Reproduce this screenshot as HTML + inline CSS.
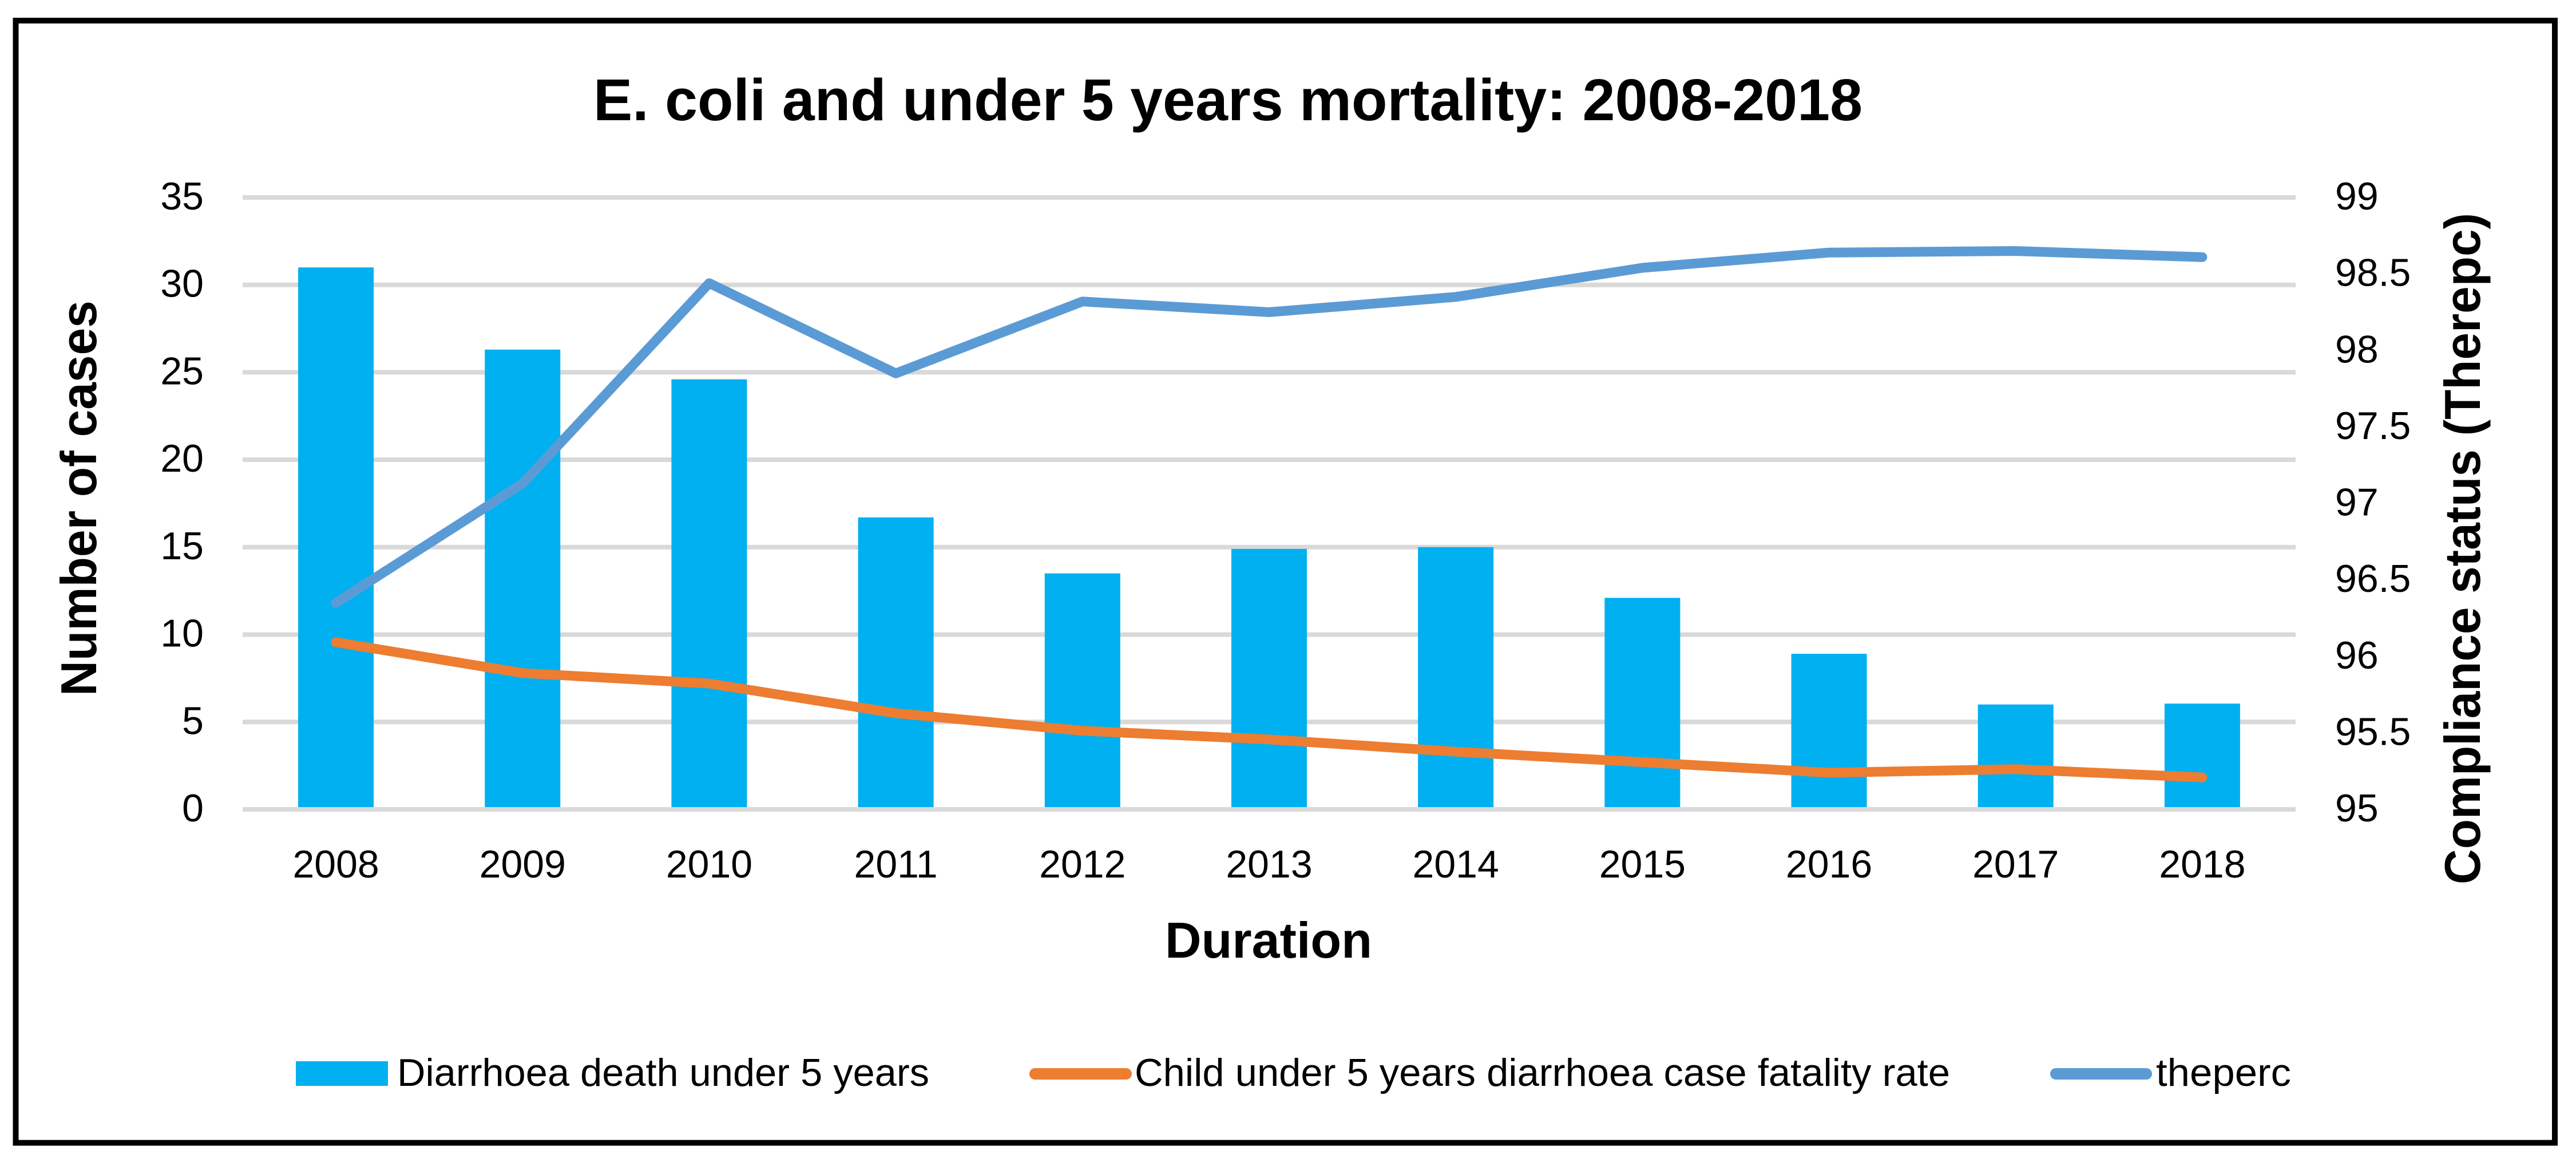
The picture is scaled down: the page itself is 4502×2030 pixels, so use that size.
<!DOCTYPE html>
<html>
<head>
<meta charset="utf-8">
<title>E. coli and under 5 years mortality</title>
<style>
html,body{margin:0;padding:0;background:#fff;width:4502px;height:2030px;overflow:hidden}
svg{display:block}
text{font-family:"Liberation Sans",sans-serif;fill:#000}
.tick{font-size:68px}
.bold{font-weight:bold}
.legend{font-size:68px}
</style>
</head>
<body>
<svg id="chart" xmlns="http://www.w3.org/2000/svg" width="4502" height="2030" viewBox="0 0 4502 2030">
  <rect x="0" y="0" width="4502" height="2030" fill="#fff"/>
  <rect x="27.5" y="36" width="4437.5" height="1960.5" fill="none" stroke="#000" stroke-width="10"/>
  <g id="grid"></g>
  <g id="bars"></g>
  <g id="baseline"></g>
  <path id="fatality-line" fill="none" stroke="#ED7D31" stroke-width="17" stroke-linecap="round" stroke-linejoin="round"></path>
  <path id="theperc-line" fill="none" stroke="#5B9BD5" stroke-width="17" stroke-linecap="round" stroke-linejoin="round"></path>
  <g id="left-ticks"></g>
  <g id="right-ticks"></g>
  <g id="x-ticks"></g>

  <text x="1037" y="210" font-size="103" class="bold" textLength="2218" lengthAdjust="spacingAndGlyphs">E. coli and under 5 years mortality: 2008-2018</text>
  <text x="2036" y="1673" font-size="88" class="bold" textLength="362" lengthAdjust="spacingAndGlyphs">Duration</text>
  <text transform="translate(168,1216) rotate(-90)" x="0" y="0" font-size="88" class="bold" textLength="691" lengthAdjust="spacingAndGlyphs">Number of cases</text>
  <text transform="translate(4334,1545) rotate(-90)" x="0" y="0" font-size="88" class="bold" textLength="1173" lengthAdjust="spacingAndGlyphs">Compliance status (Therepc)</text>

  <g>
    <rect x="517" y="1854" width="161" height="43" fill="#00B0F0"/>
    <text x="694" y="1897" class="legend" textLength="930" lengthAdjust="spacingAndGlyphs">Diarrhoea death under 5 years</text>
    <line x1="1809" y1="1876" x2="1968" y2="1876" stroke="#ED7D31" stroke-width="20" stroke-linecap="round"/>
    <text x="1983" y="1897" class="legend" textLength="1425" lengthAdjust="spacingAndGlyphs">Child under 5 years diarrhoea case fatality rate</text>
    <line x1="3593" y1="1876" x2="3751" y2="1876" stroke="#5B9BD5" stroke-width="20" stroke-linecap="round"/>
    <text x="3768" y="1897" class="legend" textLength="236" lengthAdjust="spacingAndGlyphs">theperc</text>
  </g>
</svg>
<script>
const years = ["2008","2009","2010","2011","2012","2013","2014","2015","2016","2017","2018"];
const deaths = [31.0,26.3,24.6,16.7,13.5,14.9,15.0,12.1,8.9,6.0,6.05];
const fatalityRate = [9.56,7.8,7.2,5.5,4.5,4.0,3.3,2.7,2.1,2.3,1.83];
const theperc = [96.35,97.13,98.44,97.85,98.32,98.25,98.35,98.54,98.64,98.65,98.61];
const leftTicks = [0,5,10,15,20,25,30,35];
const rightTicks = [95,95.5,96,96.5,97,97.5,98,98.5,99];

const NS = "http://www.w3.org/2000/svg";
const plotLeft = 424, plotRight = 4012, plotTop = 345, plotBottom = 1414;
const barWidth = 132;
const leftMax = 35, rightMin = 95, rightMax = 99;

function xCenter(i){ return plotLeft + (i + 0.5) * (plotRight - plotLeft) / years.length; }
function yLeft(v){ return plotBottom - (v / leftMax) * (plotBottom - plotTop); }
function yRight(v){ return plotBottom - ((v - rightMin) / (rightMax - rightMin)) * (plotBottom - plotTop); }
function linePath(vals, yFn){
  return vals.map(function(v, i){ return (i ? "L" : "M") + xCenter(i).toFixed(1) + " " + yFn(v).toFixed(1); }).join(" ");
}
function make(tag, parentId){
  const el = document.createElementNS(NS, tag);
  document.getElementById(parentId).appendChild(el);
  return el;
}

leftTicks.forEach(function(t){
  const line = make("line", t === 0 ? "baseline" : "grid");
  line.setAttribute("x1", plotLeft);
  line.setAttribute("x2", plotRight);
  line.setAttribute("y1", yLeft(t));
  line.setAttribute("y2", yLeft(t));
  line.setAttribute("stroke", "#D9D9D9");
  line.setAttribute("stroke-width", "8");
  
  

  const label = make("text", "left-ticks");
  label.setAttribute("class", "tick");
  label.setAttribute("x", "356");
  label.setAttribute("y", yLeft(t) + 21);
  label.setAttribute("text-anchor", "end");
  label.textContent = String(t);
  
  
});

rightTicks.forEach(function(t){
  const label = make("text", "right-ticks");
  label.setAttribute("class", "tick");
  label.setAttribute("x", "4081");
  label.setAttribute("y", yRight(t) + 21);
  label.textContent = String(t);
  
  
});

years.forEach(function(year, i){
  const bar = make("rect", "bars");
  bar.setAttribute("x", xCenter(i) - barWidth / 2);
  bar.setAttribute("y", yLeft(deaths[i]));
  bar.setAttribute("width", barWidth);
  bar.setAttribute("height", yLeft(0) - yLeft(deaths[i]));
  bar.setAttribute("fill", "#00B0F0");
  
  

  const label = make("text", "x-ticks");
  label.setAttribute("class", "tick");
  label.setAttribute("x", xCenter(i));
  label.setAttribute("y", "1533");
  label.setAttribute("text-anchor", "middle");
  label.textContent = year;
  
  
});

document.getElementById("fatality-line").setAttribute("d", linePath(fatalityRate, yLeft));
document.getElementById("theperc-line").setAttribute("d", linePath(theperc, yRight));
</script>
</body>
</html>
